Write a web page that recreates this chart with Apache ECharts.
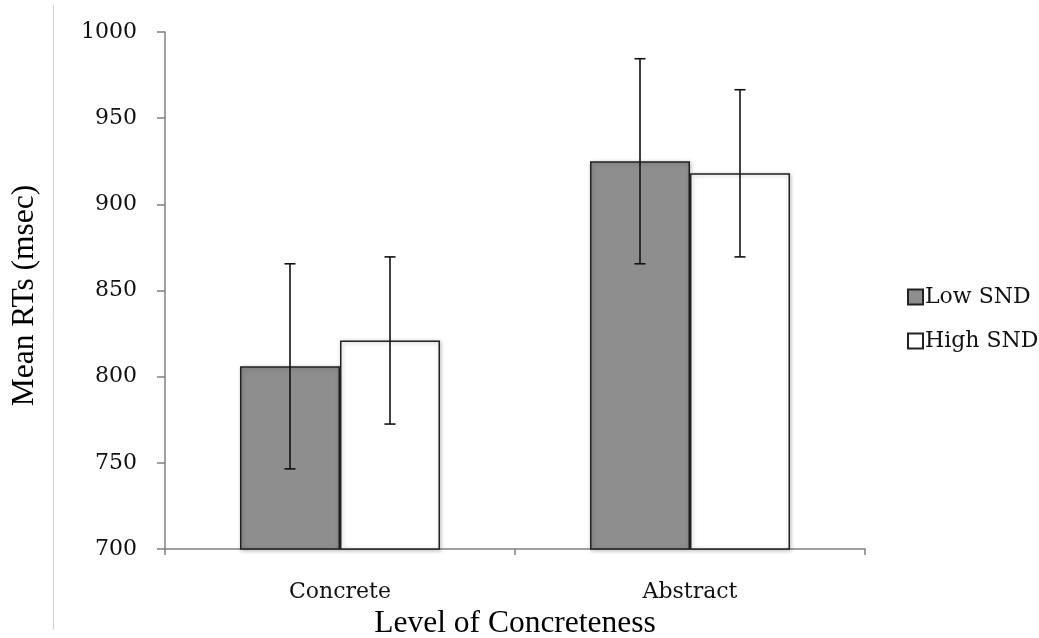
<!DOCTYPE html>
<html>
<head>
<meta charset="utf-8">
<script src="https://cdn.jsdelivr.net/npm/echarts@6/dist/echarts.min.js"></script>
<style>html,body{margin:0;padding:0;background:#fff}#c{width:1039px;height:638px}</style>
</head>
<body>
<div id="c"></div>
<script>
var categories = ['Concrete', 'Abstract'];
var seriesNames = ['Low SND', 'High SND'];
var lowMeans = [806, 925];
var highMeans = [821, 918];
var lowErr = [59.5, 59.5];
var highErr = [48.5, 48.5];
var yTicks = [700, 750, 800, 850, 900, 950, 1000];

var chart = echarts.init(document.getElementById('c'));

function errorSeries(means, errs, side) {
  var data = means.map(function (m, i) { return [i, m - errs[i], m + errs[i]]; });
  return {
    type: 'custom',
    name: side < 0 ? 'errLow' : 'errHigh',
    z: 10,
    silent: true,
    renderItem: function (params, api) {
      var idx = api.value(0);
      var band = api.size([1, 0])[0];
      var off = side * band * (1 - 0.42857) / 4;
      var lo = api.coord([idx, api.value(1)]);
      var hi = api.coord([idx, api.value(2)]);
      var x = lo[0] + off;
      var cap = 5.5;
      var st = { stroke: '#111', lineWidth: 1.6 };
      return {
        type: 'group',
        children: [
          { type: 'line', shape: { x1: x, y1: lo[1], x2: x, y2: hi[1] }, style: st },
          { type: 'line', shape: { x1: x - cap, y1: lo[1], x2: x + cap, y2: lo[1] }, style: st },
          { type: 'line', shape: { x1: x - cap, y1: hi[1], x2: x + cap, y2: hi[1] }, style: st }
        ]
      };
    },
    encode: { x: 0, y: [1, 2] },
    data: data
  };
}

var labelFont = '"DejaVu Serif", serif';
var titleFont = '"Liberation Serif", "Times New Roman", serif';

chart.setOption({
  animation: false,
  backgroundColor: '#fff',
  grid: { left: 165, right: 174, top: 32, bottom: 89, containLabel: false, outerBoundsMode: 'none' },
  legend: {
    data: seriesNames,
    orient: 'vertical',
    left: 902,
    top: 281,
    itemWidth: 15,
    itemHeight: 15,
    itemGap: 22,
    icon: 'rect',
    textStyle: { fontFamily: labelFont, fontSize: 22, color: '#111', padding: [0, 0, 0, -3] }
  },
  xAxis: {
    type: 'category',
    data: categories,
    name: 'Level of Concreteness',
    nameLocation: 'middle',
    nameGap: 57,
    nameTextStyle: { fontFamily: titleFont, fontSize: 31.5, color: '#000' },
    axisLine: { lineStyle: { color: '#808080', width: 1.5 } },
    axisTick: { show: true, length: 6, lineStyle: { color: '#808080', width: 1.5 } },
    axisLabel: { fontFamily: labelFont, fontSize: 22, color: '#111', margin: 32 }
  },
  yAxis: {
    type: 'value',
    min: 700,
    max: 1000,
    interval: 50,
    name: 'Mean RTs (msec)',
    nameLocation: 'middle',
    nameRotate: 90,
    nameGap: 124,
    nameTextStyle: { fontFamily: titleFont, fontSize: 31.5, color: '#000', padding: [0, 10, 0, 0] },
    axisLine: { show: true, lineStyle: { color: '#808080', width: 1.5 } },
    axisTick: { show: true, length: 8, lineStyle: { color: '#808080', width: 1.5 } },
    axisLabel: {
      fontFamily: labelFont, fontSize: 22, color: '#111', margin: 28,
      formatter: function (v) { return yTicks.indexOf(v) >= 0 ? String(v) : ''; }
    },
    splitLine: { show: false }
  },
  series: [
    {
      name: seriesNames[0],
      type: 'bar',
      data: lowMeans,
      barGap: '0%',
      barCategoryGap: '42.857%',
      itemStyle: { color: '#8e8e8e', borderColor: '#222', borderWidth: 1.5,
        shadowBlur: 4, shadowColor: 'rgba(0,0,0,0.25)', shadowOffsetX: 1, shadowOffsetY: 1 }
    },
    {
      name: seriesNames[1],
      type: 'bar',
      data: highMeans,
      barGap: '0%',
      barCategoryGap: '42.857%',
      itemStyle: { color: '#ffffff', borderColor: '#222', borderWidth: 1.5,
        shadowBlur: 4, shadowColor: 'rgba(0,0,0,0.25)', shadowOffsetX: 1, shadowOffsetY: 1 }
    },
    errorSeries(lowMeans, lowErr, -1),
    errorSeries(highMeans, highErr, 1)
  ],
  graphic: [
    { type: 'line', shape: { x1: 53.5, y1: 5, x2: 53.5, y2: 630 }, style: { stroke: '#d4d4d4', lineWidth: 1 } }
  ]
});
</script>
</body>
</html>
